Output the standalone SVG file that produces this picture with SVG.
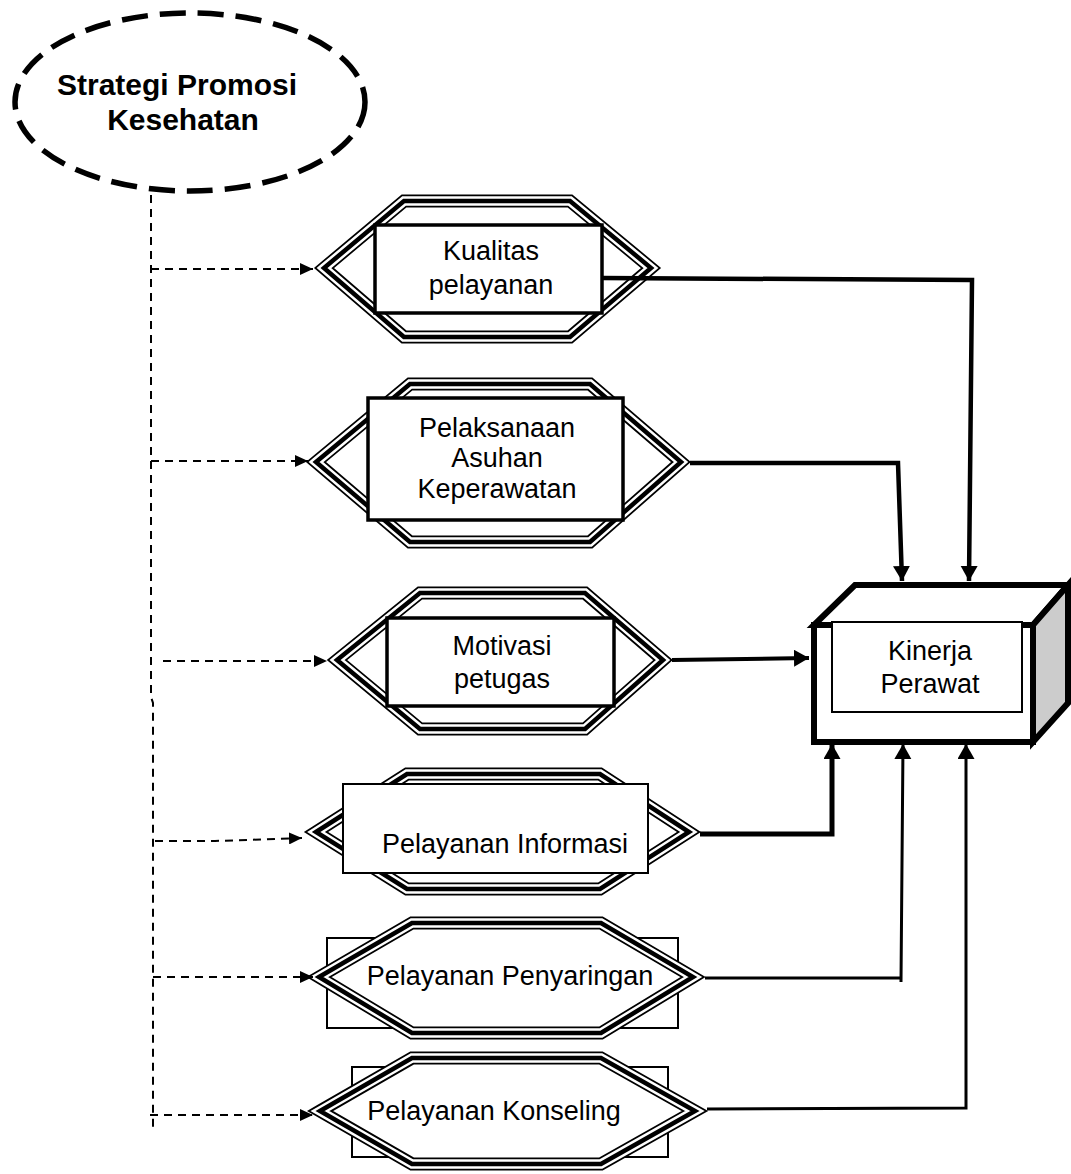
<svg xmlns="http://www.w3.org/2000/svg" xmlns:xlink="http://www.w3.org/1999/xlink" width="1071" height="1174" viewBox="0 0 1071 1174">
<style>
  .t { font-family: "Liberation Sans", Arial, sans-serif; font-size: 27px; fill: #000; text-anchor: middle; }
  .tb { font-family: "Liberation Sans", Arial, sans-serif; font-size: 30px; font-weight: bold; fill: #000; text-anchor: middle; }
  .h1 { fill: #fff; stroke: #000; stroke-width: 13; stroke-linejoin: miter; }
  .h2 { fill: none; stroke: #fff; stroke-width: 9.5; stroke-linejoin: miter; }
  .h3 { fill: none; stroke: #000; stroke-width: 4.5; stroke-linejoin: miter; }
  .box { fill: #fff; stroke: #000; stroke-width: 3.5; }
  .boxthin { fill: #fff; stroke: #000; stroke-width: 2; }
  .dash { fill: none; stroke: #000; stroke-width: 2; stroke-dasharray: 8 6; }
  .solid { fill: none; stroke: #000; stroke-linejoin: miter; }
</style>
<defs>
  <marker id="ad" markerUnits="userSpaceOnUse" markerWidth="14" markerHeight="12" refX="13" refY="6" orient="auto">
    <path d="M0,0 L13,6 L0,12 Z" fill="#000"/>
  </marker>
  <marker id="as" markerUnits="userSpaceOnUse" markerWidth="16" markerHeight="18" refX="15" refY="8.5" orient="auto">
    <path d="M0,0 L15,8.5 L0,17 Z" fill="#000"/>
  </marker>
  <polygon id="hx1" points="324,268 404,201 570,201 651,268 570,337 404,337"/>
  <polygon id="hx2" points="316,462 410,384 590,384 681,462 590,542 410,542"/>
  <polygon id="hx3" points="337,660 420,593 585,593 663,660 585,729 420,729"/>
  <polygon id="hx4" points="316,832 407,774 600,774 689,832 600,889 407,889"/>
  <polygon id="hx5" points="319,977 412,923 601,923 693,977 601,1033 412,1033"/>
  <polygon id="hx6" points="320,1111 412,1058 601,1058 695,1111 601,1164 412,1164"/>
</defs>
<rect width="1071" height="1174" fill="#fff"/>

<g id="strategi">
  <ellipse cx="190" cy="102" rx="175" ry="89" fill="none" stroke="#000" stroke-width="5.5" stroke-dasharray="26 12"/>
  <text class="tb" x="177" y="95">Strategi Promosi</text>
  <text class="tb" x="183" y="130">Kesehatan</text>
</g>

<g id="kualitas">
  <use xlink:href="#hx1" class="h1"/><use xlink:href="#hx1" class="h2"/><use xlink:href="#hx1" class="h3"/>
  <rect class="box" x="375" y="225" width="227" height="88"/>
  <text class="t" x="491" y="260">Kualitas</text>
  <text class="t" x="491" y="294">pelayanan</text>
</g>

<g id="pelaksanaan">
  <use xlink:href="#hx2" class="h1"/><use xlink:href="#hx2" class="h2"/><use xlink:href="#hx2" class="h3"/>
  <rect class="box" x="368" y="398" width="255" height="122"/>
  <text class="t" x="497" y="437">Pelaksanaan</text>
  <text class="t" x="497" y="467">Asuhan</text>
  <text class="t" x="497" y="498">Keperawatan</text>
</g>

<g id="motivasi">
  <use xlink:href="#hx3" class="h1"/><use xlink:href="#hx3" class="h2"/><use xlink:href="#hx3" class="h3"/>
  <rect class="box" x="387" y="618" width="227" height="88"/>
  <text class="t" x="502" y="655">Motivasi</text>
  <text class="t" x="502" y="688">petugas</text>
</g>

<g id="informasi">
  <use xlink:href="#hx4" class="h1"/><use xlink:href="#hx4" class="h2"/><use xlink:href="#hx4" class="h3"/>
  <rect class="boxthin" x="343" y="784" width="305" height="89"/>
  <text class="t" x="505" y="853">Pelayanan Informasi</text>
</g>

<g id="penyaringan">
  <rect class="boxthin" x="327" y="938" width="351" height="90"/>
  <use xlink:href="#hx5" class="h1"/><use xlink:href="#hx5" class="h2"/><use xlink:href="#hx5" class="h3"/>
  <text class="t" x="510" y="985">Pelayanan Penyaringan</text>
</g>

<g id="konseling">
  <rect class="boxthin" x="352" y="1067" width="316" height="90"/>
  <use xlink:href="#hx6" class="h1"/><use xlink:href="#hx6" class="h2"/><use xlink:href="#hx6" class="h3"/>
  <text class="t" x="494" y="1120">Pelayanan Konseling</text>
</g>

<g id="kinerja">
  <polygon points="814,625 855,585 1068,585 1033,625" fill="#fff" stroke="#000" stroke-width="6" stroke-linejoin="miter"/>
  <polygon points="1033,625 1068,585 1068,703 1033,742" fill="#ccc" stroke="#000" stroke-width="6" stroke-linejoin="miter"/>
  <rect x="814" y="625" width="219" height="117" fill="#fff" stroke="#000" stroke-width="6"/>
  <rect x="832" y="622" width="190" height="90" fill="#fff" stroke="#000" stroke-width="2"/>
  <text class="t" x="930" y="660">Kinerja</text>
  <text class="t" x="930" y="693">Perawat</text>
</g>

<g id="connectors">
  <path class="dash" d="M151,195 L151,697 L153,703 L153,1130"/>
  <path class="dash" d="M151,269 L313,269" marker-end="url(#ad)"/>
  <path class="dash" d="M151,461 L308,461" marker-end="url(#ad)"/>
  <path class="dash" d="M163,661 L327,661" marker-end="url(#ad)"/>
  <path class="dash" d="M155,841 L215,841 L302,838" marker-end="url(#ad)"/>
  <path class="dash" d="M153,977 L313,977" marker-end="url(#ad)"/>
  <path class="dash" d="M150,1115 L313,1115" marker-end="url(#ad)"/>

  <path class="solid" stroke-width="4.5" d="M602,278 L972,280 L969,581" marker-end="url(#as)"/>
  <path class="solid" stroke-width="4.5" d="M690,463 L898,463 L902,581" marker-end="url(#as)"/>
  <path class="solid" stroke-width="4" d="M672,660 L809,658" marker-end="url(#as)"/>
  <path class="solid" stroke-width="5" d="M700,834 L832,834 L832,744" marker-end="url(#as)"/>
  <path class="solid" stroke-width="3" d="M705,978 L902,978 M901,982 L903,744" marker-end="url(#as)"/>
  <path class="solid" stroke-width="3" d="M707,1109 L966,1108 L966,744" marker-end="url(#as)"/>
</g>
</svg>
